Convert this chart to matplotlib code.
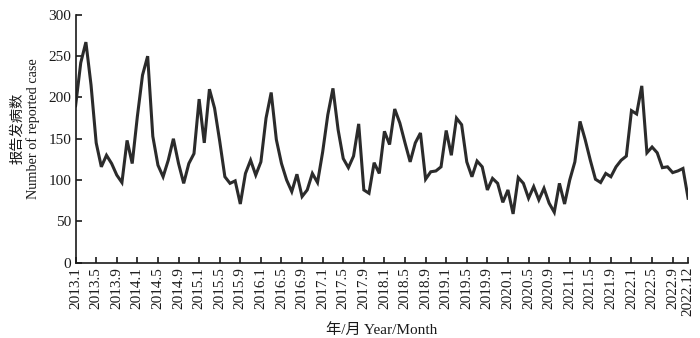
import numpy as np
import matplotlib
matplotlib.use("Agg")
import matplotlib.pyplot as plt

# monthly reported cases, 2013.1 - 2022.12
years = list(range(2013, 2023))
cases_2013 = [190, 242, 267, 215, 145, 116, 130, 120, 106, 97, 148, 120]
cases_2014 = [177, 227, 250, 153, 118, 104, 124, 150, 120, 96, 120, 132]
cases_2015 = [198, 145, 210, 187, 147, 104, 96, 99, 71, 108, 124, 106]
cases_2016 = [122, 175, 206, 149, 120, 100, 86, 107, 80, 88, 108, 97]
cases_2017 = [134, 179, 211, 161, 126, 115, 129, 168, 88, 84, 121, 108]
cases_2018 = [159, 143, 186, 169, 145, 122, 145, 157, 101, 110, 111, 116]
cases_2019 = [160, 130, 175, 167, 122, 104, 123, 116, 88, 102, 96, 73]
cases_2020 = [88, 59, 103, 96, 78, 92, 76, 90, 72, 61, 96, 71]
cases_2021 = [100, 122, 171, 149, 124, 101, 97, 108, 104, 116, 124, 129]
cases_2022 = [184, 180, 214, 133, 140, 133, 115, 116, 109, 111, 114, 78]

cases = (cases_2013 + cases_2014 + cases_2015 + cases_2016 + cases_2017
         + cases_2018 + cases_2019 + cases_2020 + cases_2021 + cases_2022)
labels = [f"{y}.{m}" for y in years for m in range(1, 13)]

tick_pos = list(range(0, 120, 4)) + [119]
tick_labels = [labels[i] for i in tick_pos]

plt.rcParams["font.family"] = ["Liberation Serif", "Noto Sans CJK SC"]

fig = plt.figure(figsize=(7, 3.38), dpi=100)
ax = fig.add_axes([0.108, 0.223, 0.875, 0.733])

x = np.arange(len(cases))
ax.plot(x, cases, color="#2b2b2b", lw=2.2, solid_joinstyle="miter")

ax.set_xlim(0, 119)
ax.set_ylim(0, 300)
ax.set_yticks(range(0, 301, 50))
ax.set_xticks(tick_pos)
ax.set_xticklabels(tick_labels, rotation=90)

for side in ("top", "right"):
    ax.spines[side].set_visible(False)
for side in ("left", "bottom"):
    ax.spines[side].set_linewidth(1.2)
    ax.spines[side].set_color("#1a1a1a")

ax.tick_params(direction="in", length=4.5, width=1.2, labelsize=11,
               colors="#1a1a1a", pad=3)

ax.set_ylabel("报告发病数\nNumber of reported case", fontsize=10.3,
              linespacing=1.15, color="#1a1a1a")
ax.yaxis.set_label_coords(-0.058, 0.54)
ax.set_xlabel("年/月 Year/Month", fontsize=11, color="#1a1a1a", labelpad=5)

fig.savefig("out.png", dpi=100)
